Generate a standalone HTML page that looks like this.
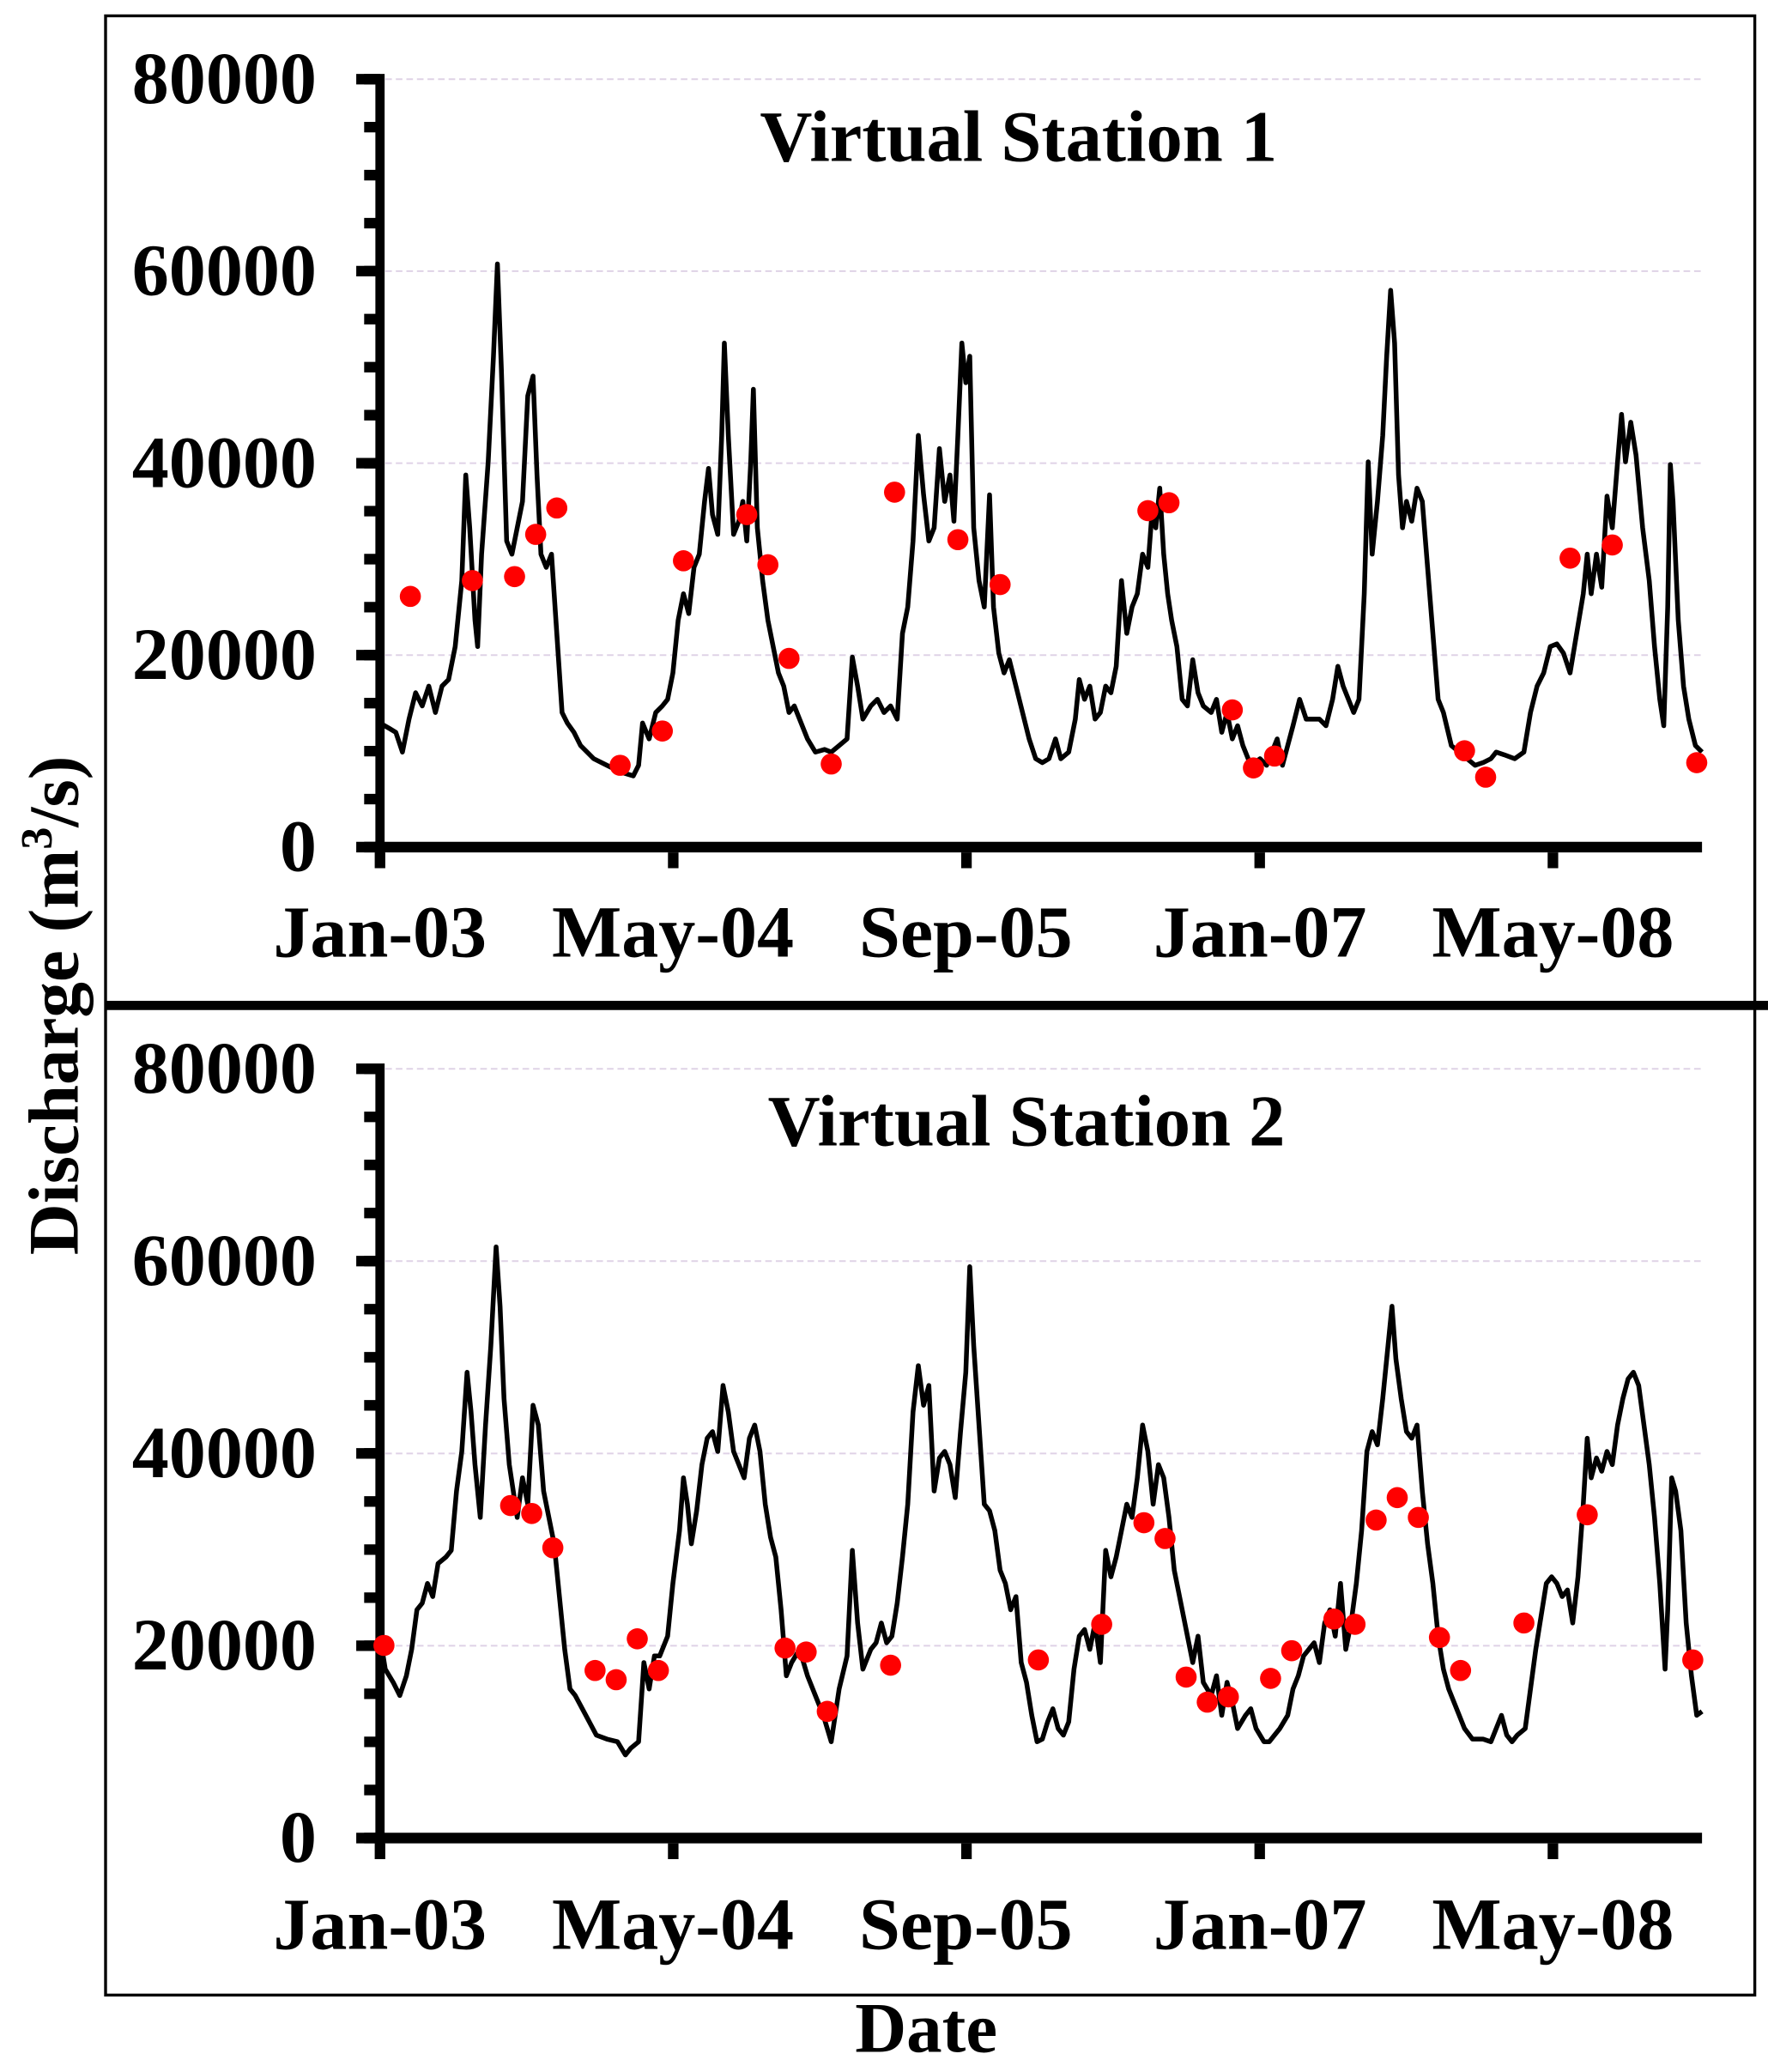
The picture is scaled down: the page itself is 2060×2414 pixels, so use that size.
<!DOCTYPE html>
<html><head><meta charset="utf-8"><style>
html,body{margin:0;padding:0;background:#fff}
svg{display:block}
text{font-family:"Liberation Serif",serif;font-weight:bold;fill:#000}
</style></head><body>
<svg width="2060" height="2414" viewBox="0 0 1340 1570.3" xmlns="http://www.w3.org/2000/svg">
<rect x="0" y="0" width="1340" height="1571" fill="#fff"/>
<rect x="80" y="12" width="1250" height="1500" fill="none" stroke="#000" stroke-width="2.2"/>
<line x1="80" y1="762" x2="1340" y2="762" stroke="#000" stroke-width="7"/>
<g stroke="#d8c8e0" stroke-width="1.3" stroke-dasharray="5 3" opacity="0.8">
<line x1="292" y1="60" x2="1290" y2="60"/><line x1="292" y1="205.5" x2="1290" y2="205.5"/><line x1="292" y1="351" x2="1290" y2="351"/><line x1="292" y1="496.5" x2="1290" y2="496.5"/>
<line x1="292" y1="810" x2="1290" y2="810"/><line x1="292" y1="955.75" x2="1290" y2="955.75"/><line x1="292" y1="1101.5" x2="1290" y2="1101.5"/><line x1="292" y1="1247.25" x2="1290" y2="1247.25"/>
</g>
<line x1="288" y1="56" x2="288" y2="654" stroke="#000" stroke-width="7"/>
<line x1="284" y1="642" x2="1290" y2="642" stroke="#000" stroke-width="8"/>
<line x1="282" y1="56" x2="282" y2="650" stroke="#000" stroke-width="12" stroke-dasharray="8 28.375"/>
<line x1="279" y1="56" x2="279" y2="650" stroke="#000" stroke-width="18" stroke-dasharray="8 137.5"/>
<line x1="284" y1="652" x2="1200" y2="652" stroke="#000" stroke-width="12" stroke-dasharray="8 214.25"/>
<line x1="288" y1="806" x2="288" y2="1405" stroke="#000" stroke-width="7"/>
<line x1="284" y1="1393" x2="1290" y2="1393" stroke="#000" stroke-width="8"/>
<line x1="282" y1="806" x2="282" y2="1401" stroke="#000" stroke-width="12" stroke-dasharray="8 28.4375"/>
<line x1="279" y1="806" x2="279" y2="1401" stroke="#000" stroke-width="18" stroke-dasharray="8 137.75"/>
<line x1="284" y1="1403" x2="1200" y2="1403" stroke="#000" stroke-width="12" stroke-dasharray="8 214.25"/>
<g font-size="56" text-anchor="end">
<text x="240" y="78">80000</text><text x="240" y="223.5">60000</text><text x="240" y="369">40000</text><text x="240" y="514.5">20000</text><text x="240" y="660">0</text>
<text x="240" y="828">80000</text><text x="240" y="973.75">60000</text><text x="240" y="1119.5">40000</text><text x="240" y="1265.25">20000</text><text x="240" y="1411">0</text>
</g>
<g font-size="56" text-anchor="middle">
<text x="288" y="725">Jan-03</text><text x="510" y="725">May-04</text><text x="732" y="725">Sep-05</text><text x="955" y="725">Jan-07</text><text x="1177" y="725">May-08</text>
<text x="288" y="1477">Jan-03</text><text x="510" y="1477">May-04</text><text x="732" y="1477">Sep-05</text><text x="955" y="1477">Jan-07</text><text x="1177" y="1477">May-08</text>
<text x="772" y="122" font-size="55">Virtual Station 1</text>
<text x="778" y="868" font-size="55">Virtual Station 2</text>
<text x="702" y="1555" font-size="54">Date</text>
<text transform="translate(59,762) rotate(-90)" font-size="54">Discharge (m<tspan font-size="34" dy="-20">3</tspan><tspan dy="20">/s)</tspan></text>
</g>
<polyline fill="none" stroke="#000" stroke-width="3.6" stroke-linejoin="round" points="288,548 295,552 300,555 305,570 310,545 315,525 320,535 325,520 330,540 335,520 340,515 345,490 350,440 353,360 356,400 360,470 362,490 365,420 370,350 374,270 377,200 380,280 384,410 388,420 392,400 396,380 400,300 404,285 407,360 410,420 414,430 418,420 422,480 426,540 430,548 435,555 440,565 450,575 460,580 470,585 480,588 484,580 487,548 492,560 497,540 502,535 506,530 510,510 514,470 518,450 522,465 526,430 530,420 534,380 537,355 540,390 544,405 547,330 549,260 552,330 556,405 560,395 563,380 566,410 569,350 571,295 574,400 578,440 582,470 586,490 590,510 594,520 598,540 602,535 606,545 612,560 618,570 625,568 630,570 636,565 642,560 646,498 650,520 654,545 660,535 665,530 670,540 675,535 680,545 684,480 688,460 692,410 696,330 700,375 704,410 708,400 712,340 716,380 720,360 723,395 726,330 729,260 732,290 735,270 738,400 742,440 746,460 750,375 753,460 757,495 761,510 765,500 770,520 775,540 780,560 785,575 790,578 795,575 800,560 804,575 810,570 815,545 818,515 822,530 826,520 830,545 834,540 838,520 842,525 846,505 850,440 854,480 858,460 862,450 866,420 870,430 873,390 876,400 879,370 882,420 885,450 888,470 892,490 896,530 900,535 904,500 908,525 912,535 918,540 922,530 926,555 930,540 934,560 938,550 942,565 948,580 955,575 960,580 964,570 968,560 972,580 976,565 980,550 985,530 990,545 995,545 1000,545 1005,550 1010,530 1014,505 1018,520 1022,530 1026,540 1030,530 1034,450 1037,350 1040,420 1044,380 1048,330 1051,270 1054,220 1057,260 1060,360 1063,400 1066,380 1070,395 1074,370 1078,380 1082,430 1086,480 1090,530 1094,540 1100,565 1106,570 1112,575 1118,580 1124,578 1130,575 1134,570 1140,572 1148,575 1155,570 1160,540 1165,520 1170,510 1175,490 1180,488 1185,495 1190,510 1195,480 1200,450 1203,420 1206,450 1210,420 1214,445 1218,376 1222,400 1226,350 1229,314 1232,350 1236,320 1240,345 1245,400 1250,440 1254,490 1258,530 1261,550 1264,460 1266,352 1268,380 1272,470 1276,520 1280,545 1285,565 1290,570"/>
<g fill="#f00">
<circle cx="311" cy="452" r="8"/><circle cx="358" cy="440" r="8"/><circle cx="390" cy="437" r="8"/><circle cx="406" cy="405" r="8"/><circle cx="422" cy="385" r="8"/><circle cx="470" cy="580" r="8"/><circle cx="502" cy="554" r="8"/><circle cx="518" cy="425" r="8"/><circle cx="566" cy="390" r="8"/><circle cx="582" cy="428" r="8"/><circle cx="598" cy="499" r="8"/><circle cx="630" cy="579" r="8"/><circle cx="678" cy="373" r="8"/><circle cx="726" cy="409" r="8"/><circle cx="758" cy="443" r="8"/><circle cx="870" cy="387" r="8"/><circle cx="886" cy="381" r="8"/><circle cx="934" cy="538" r="8"/><circle cx="950" cy="582" r="8"/><circle cx="966" cy="573" r="8"/><circle cx="1110" cy="569" r="8"/><circle cx="1126" cy="589" r="8"/><circle cx="1190" cy="423" r="8"/><circle cx="1222" cy="413" r="8"/><circle cx="1286" cy="578" r="8"/>
</g>
<polyline fill="none" stroke="#000" stroke-width="3.6" stroke-linejoin="round" points="288,1240 292,1265 298,1275 303,1285 308,1270 312,1250 316,1220 320,1215 324,1200 328,1210 332,1185 338,1180 342,1175 346,1130 350,1100 354,1040 357,1070 360,1110 364,1150 368,1080 372,1020 376,945 379,990 382,1060 386,1110 392,1150 396,1120 400,1140 404,1065 408,1080 412,1130 416,1150 420,1170 424,1210 428,1250 432,1280 436,1285 444,1300 452,1315 460,1318 468,1320 474,1330 478,1325 484,1320 488,1260 492,1280 496,1255 500,1255 506,1240 510,1200 515,1160 518,1120 521,1140 524,1170 528,1145 532,1110 536,1090 540,1085 544,1100 548,1050 552,1070 556,1100 560,1110 564,1120 568,1090 572,1080 576,1100 580,1140 584,1165 588,1180 592,1220 596,1270 600,1260 606,1250 612,1270 618,1285 624,1300 630,1320 636,1280 642,1255 646,1175 650,1230 654,1265 660,1250 664,1245 668,1230 672,1245 676,1240 680,1215 684,1180 688,1140 692,1070 696,1035 700,1065 704,1050 708,1130 712,1105 716,1100 720,1110 724,1135 728,1085 732,1040 735,960 738,1020 742,1080 746,1140 750,1145 754,1160 758,1190 762,1200 766,1220 770,1210 774,1260 778,1275 782,1300 786,1320 790,1318 794,1305 798,1295 802,1310 806,1315 810,1305 814,1265 818,1240 822,1235 826,1250 830,1230 834,1260 838,1175 842,1195 846,1180 850,1160 854,1140 858,1150 862,1120 866,1080 870,1100 874,1140 878,1110 882,1120 886,1150 890,1190 894,1210 898,1230 904,1260 908,1240 912,1275 918,1285 922,1270 926,1300 930,1275 934,1290 938,1310 944,1300 948,1295 952,1310 958,1320 962,1320 966,1315 970,1310 976,1300 980,1280 984,1270 988,1255 992,1250 996,1245 1000,1260 1004,1230 1008,1220 1012,1240 1016,1200 1020,1250 1024,1230 1028,1200 1032,1160 1036,1100 1040,1085 1044,1095 1048,1060 1052,1020 1055,990 1058,1030 1062,1060 1066,1085 1070,1090 1074,1080 1078,1130 1082,1170 1086,1200 1090,1240 1094,1265 1098,1280 1102,1290 1106,1300 1110,1310 1116,1318 1124,1318 1130,1320 1134,1310 1138,1300 1142,1315 1146,1320 1150,1315 1156,1310 1160,1280 1164,1250 1168,1225 1172,1200 1176,1195 1180,1200 1184,1210 1188,1205 1192,1230 1196,1195 1200,1140 1203,1090 1206,1120 1210,1105 1214,1115 1218,1100 1222,1110 1226,1080 1230,1060 1234,1045 1238,1040 1242,1050 1246,1080 1250,1110 1254,1150 1258,1200 1262,1265 1264,1220 1267,1120 1270,1130 1274,1160 1278,1230 1282,1270 1286,1300 1290,1297"/>
<g fill="#f00">
<circle cx="291" cy="1247" r="8"/><circle cx="387" cy="1141" r="8"/><circle cx="403" cy="1147" r="8"/><circle cx="419" cy="1173" r="8"/><circle cx="451" cy="1266" r="8"/><circle cx="467" cy="1273" r="8"/><circle cx="483" cy="1242" r="8"/><circle cx="499" cy="1266" r="8"/><circle cx="595" cy="1249" r="8"/><circle cx="611" cy="1252" r="8"/><circle cx="627" cy="1297" r="8"/><circle cx="675" cy="1262" r="8"/><circle cx="787" cy="1258" r="8"/><circle cx="835" cy="1231" r="8"/><circle cx="867" cy="1154" r="8"/><circle cx="883" cy="1166" r="8"/><circle cx="899" cy="1271" r="8"/><circle cx="915" cy="1290" r="8"/><circle cx="931" cy="1286" r="8"/><circle cx="963" cy="1272" r="8"/><circle cx="979" cy="1251" r="8"/><circle cx="1011" cy="1227" r="8"/><circle cx="1027" cy="1231" r="8"/><circle cx="1043" cy="1152" r="8"/><circle cx="1059" cy="1135" r="8"/><circle cx="1075" cy="1150" r="8"/><circle cx="1091" cy="1241" r="8"/><circle cx="1107" cy="1266" r="8"/><circle cx="1155" cy="1230" r="8"/><circle cx="1203" cy="1148" r="8"/><circle cx="1283" cy="1258" r="8"/>
</g>
</svg>
</body></html>
